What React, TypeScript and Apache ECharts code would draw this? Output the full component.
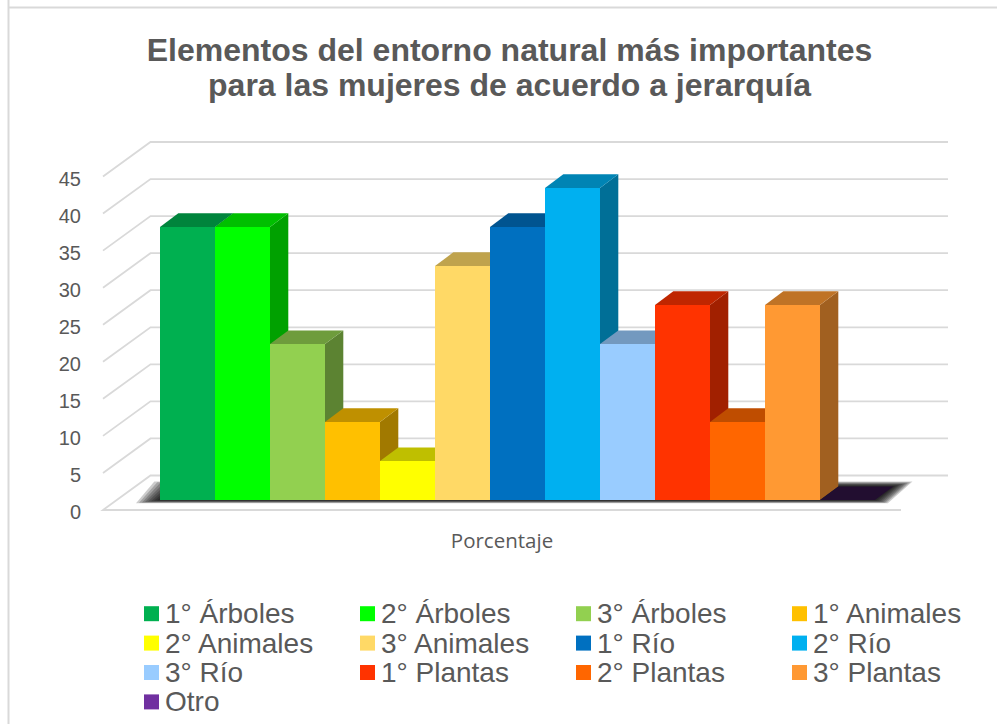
import React, { useEffect, useRef } from "react";
import * as echarts from "echarts";

const seriesNames = [
  "1° Árboles", "2° Árboles", "3° Árboles", "1° Animales", "2° Animales", "3° Animales",
  "1° Río", "2° Río", "3° Río", "1° Plantas", "2° Plantas", "3° Plantas", "Otro",
];
const seriesValues = [36.84, 36.84, 21.05, 10.53, 5.26, 31.58, 36.84, 42.11, 21.05, 26.32, 10.53, 26.32, 0];
const seriesColors = [
  "#00B050", "#00FF00", "#92D050", "#FFC000", "#FFFF00", "#FFD966",
  "#0070C0", "#00B0F0", "#99CCFF", "#FF3300", "#FF6600", "#FF9933", "#7030A0",
];
const categories = ["Porcentaje"];
const yTicks = [0, 5, 10, 15, 20, 25, 30, 35, 40, 45];
const titleLines = ["Elementos del entorno natural más importantes", "para las mujeres de acuerdo a jerarquía"];

const LABEL_DROP = 2;
const GRID = { left: 103, top: 176.5 + LABEL_DROP, width: 798, height: 333.5 };
const WALL_DX = 47.5;
const WALL_DY = -34.5;
const BAR_W = 55;
const BAR_DX = 15.5;
const BAR_DY = -10 - LABEL_DROP;
const DEPTH_DX = 18.3;
const DEPTH_DY = -13.6;
const GRID_COLOR = "#d9d9d9";
const TEXT = "#595959";
const SHADOW_STEPS = [16, 14, 12, 10, 8, 6, 4, 2];

function shade(hex: string, k: number) {
  const n = parseInt(hex.slice(1), 16);
  const c = [(n >> 16) & 255, (n >> 8) & 255, n & 255].map((v) => Math.round(v * k));
  return `rgb(${c[0]},${c[1]},${c[2]})`;
}

function gridRender(params: any, api: any) {
  const p = api.coord([0, api.value(1)]);
  const cs = params.coordSys;
  const y = p[1] - LABEL_DROP;
  const x0 = cs.x;
  const x1 = cs.x + cs.width;
  return {
    type: "polyline",
    silent: true,
    shape: {
      points: [
        ...(api.value(1) === 0 ? [[x1, y]] : []),
        [x0, y],
        [x0 + WALL_DX, y + WALL_DY],
        [x1 + WALL_DX - 0.5, y + WALL_DY],
      ],
    },
    style: { stroke: GRID_COLOR, lineWidth: 1.8, fill: "none" },
  };
}

function shadowRender(_params: any, api: any) {
  const p = api.coord([0, 0]);
  const n = seriesValues.length;
  const x0 = p[0] + BAR_DX - (n / 2) * BAR_W;
  const x1 = x0 + n * BAR_W;
  const y = p[1] + BAR_DY;
  return {
    type: "group",
    silent: true,
    children: SHADOW_STEPS.map((e) => ({
      type: "polygon",
      silent: true,
      shape: {
        points: [
          [x0 - 1.5 * e, y + 0.2 * e],
          [x0 + DEPTH_DX - 1.5 * e, y + DEPTH_DY - 0.3 * e],
          [x1 + DEPTH_DX + 1.2 * e, y + DEPTH_DY - 0.3 * e],
          [x1 + 0.8 * e, y + 0.2 * e],
        ],
      },
      style: { fill: "rgba(0,0,0,0.2)" },
    })),
  };
}

function barRender(index: number) {
  return (_params: any, api: any) => {
    const v = api.value(1);
    const top = api.coord([0, v]);
    const base = api.coord([0, 0]);
    const x0 = top[0] + BAR_DX + (index - seriesValues.length / 2) * BAR_W;
    const x1 = x0 + BAR_W;
    const yT = top[1] + BAR_DY;
    const yB = base[1] + BAR_DY;
    const c = seriesColors[index];
    const children: any[] = [];
    if (v > 0) {
      children.push({
        type: "polygon",
        shape: { points: [[x1, yT], [x1 + DEPTH_DX, yT + DEPTH_DY], [x1 + DEPTH_DX, yB + DEPTH_DY], [x1, yB]] },
        style: { fill: shade(c, 0.63) },
      });
    }
    children.push({
      type: "polygon",
      shape: { points: [[x0, yT], [x0 + DEPTH_DX, yT + DEPTH_DY], [x1 + DEPTH_DX, yT + DEPTH_DY], [x1, yT]] },
      style: { fill: shade(c, v > 0 ? 0.75 : 0.3) },
    });
    if (v > 0) {
      children.push({
        type: "rect",
        shape: { x: x0, y: yT, width: BAR_W, height: yB - yT },
        style: { fill: c },
      });
    }
    return { type: "group", children };
  };
}

const legendColumns = [
  { left: 144, data: [0, 4, 8, 12] },
  { left: 360, data: [1, 5, 9] },
  { left: 576, data: [2, 6, 10] },
  { left: 792, data: [3, 7, 11] },
];

export default function App() {
  const ref = useRef<HTMLDivElement>(null);
  useEffect(() => {
    if (!ref.current) return;
    const chart = echarts.init(ref.current, undefined, { renderer: "svg" });
    chart.setOption({
      animation: false,
      backgroundColor: "#ffffff",
      title: {
        text: titleLines.join("\n"),
        left: 504.5,
        top: 27,
        textAlign: "center",
        textStyle: {
          fontFamily: "Liberation Sans",
          fontSize: 32,
          fontWeight: "bold",
          color: TEXT,
          lineHeight: 35,
        },
      },
      grid: { ...GRID, containLabel: false },
      xAxis: {
        type: "category",
        data: categories,
        axisLine: { show: false },
        axisTick: { show: false },
        axisLabel: { fontFamily: "Open Sans", fontSize: 20.5, color: TEXT, margin: 17 },
      },
      yAxis: {
        type: "value",
        min: 0,
        max: 45,
        interval: 5,
        axisLine: { show: false },
        axisTick: { show: false },
        splitLine: { show: false },
        axisLabel: { fontFamily: "Liberation Sans", fontSize: 20, color: TEXT, margin: 22 },
      },
      legend: legendColumns.map((col) => ({
        left: col.left,
        top: 599,
        orient: "vertical",
        icon: "rect",
        itemWidth: 15,
        itemHeight: 15,
        itemGap: 0,
        padding: 0,
        selectedMode: false,
        data: col.data.map((i) => seriesNames[i]),
        textStyle: {
          fontFamily: "Liberation Sans",
          fontSize: 28,
          color: TEXT,
          lineHeight: 29.4,
          padding: [0, 0, 0, 1],
        },
      })),
      series: [
        {
          type: "custom",
          name: "_grid",
          z: 1,
          silent: true,
          renderItem: gridRender,
          data: yTicks.map((t) => [0, t]),
          encode: { x: 0, y: 1 },
        },
        {
          type: "custom",
          name: "_shadow",
          z: 2,
          silent: true,
          renderItem: shadowRender,
          data: [[0, 0]],
          encode: { x: 0, y: 1 },
        },
        ...seriesNames.map((name, i) => ({
          type: "custom",
          name,
          z: 3 + i,
          renderItem: barRender(i),
          itemStyle: { color: seriesColors[i] },
          data: [[0, seriesValues[i]]],
          encode: { x: 0, y: 1 },
        })),
      ],
      graphic: [
        { type: "line", silent: true, shape: { x1: 8.5, y1: 0, x2: 8.5, y2: 724 }, style: { stroke: GRID_COLOR, lineWidth: 2 } },
        { type: "line", silent: true, shape: { x1: 8, y1: 7.5, x2: 997, y2: 7.5 }, style: { stroke: GRID_COLOR, lineWidth: 2 } },
      ],
    });
    return () => chart.dispose();
  }, []);
  return <div ref={ref} style={{ position: "fixed", left: 0, top: 0, width: 997, height: 724 }} />;
}
